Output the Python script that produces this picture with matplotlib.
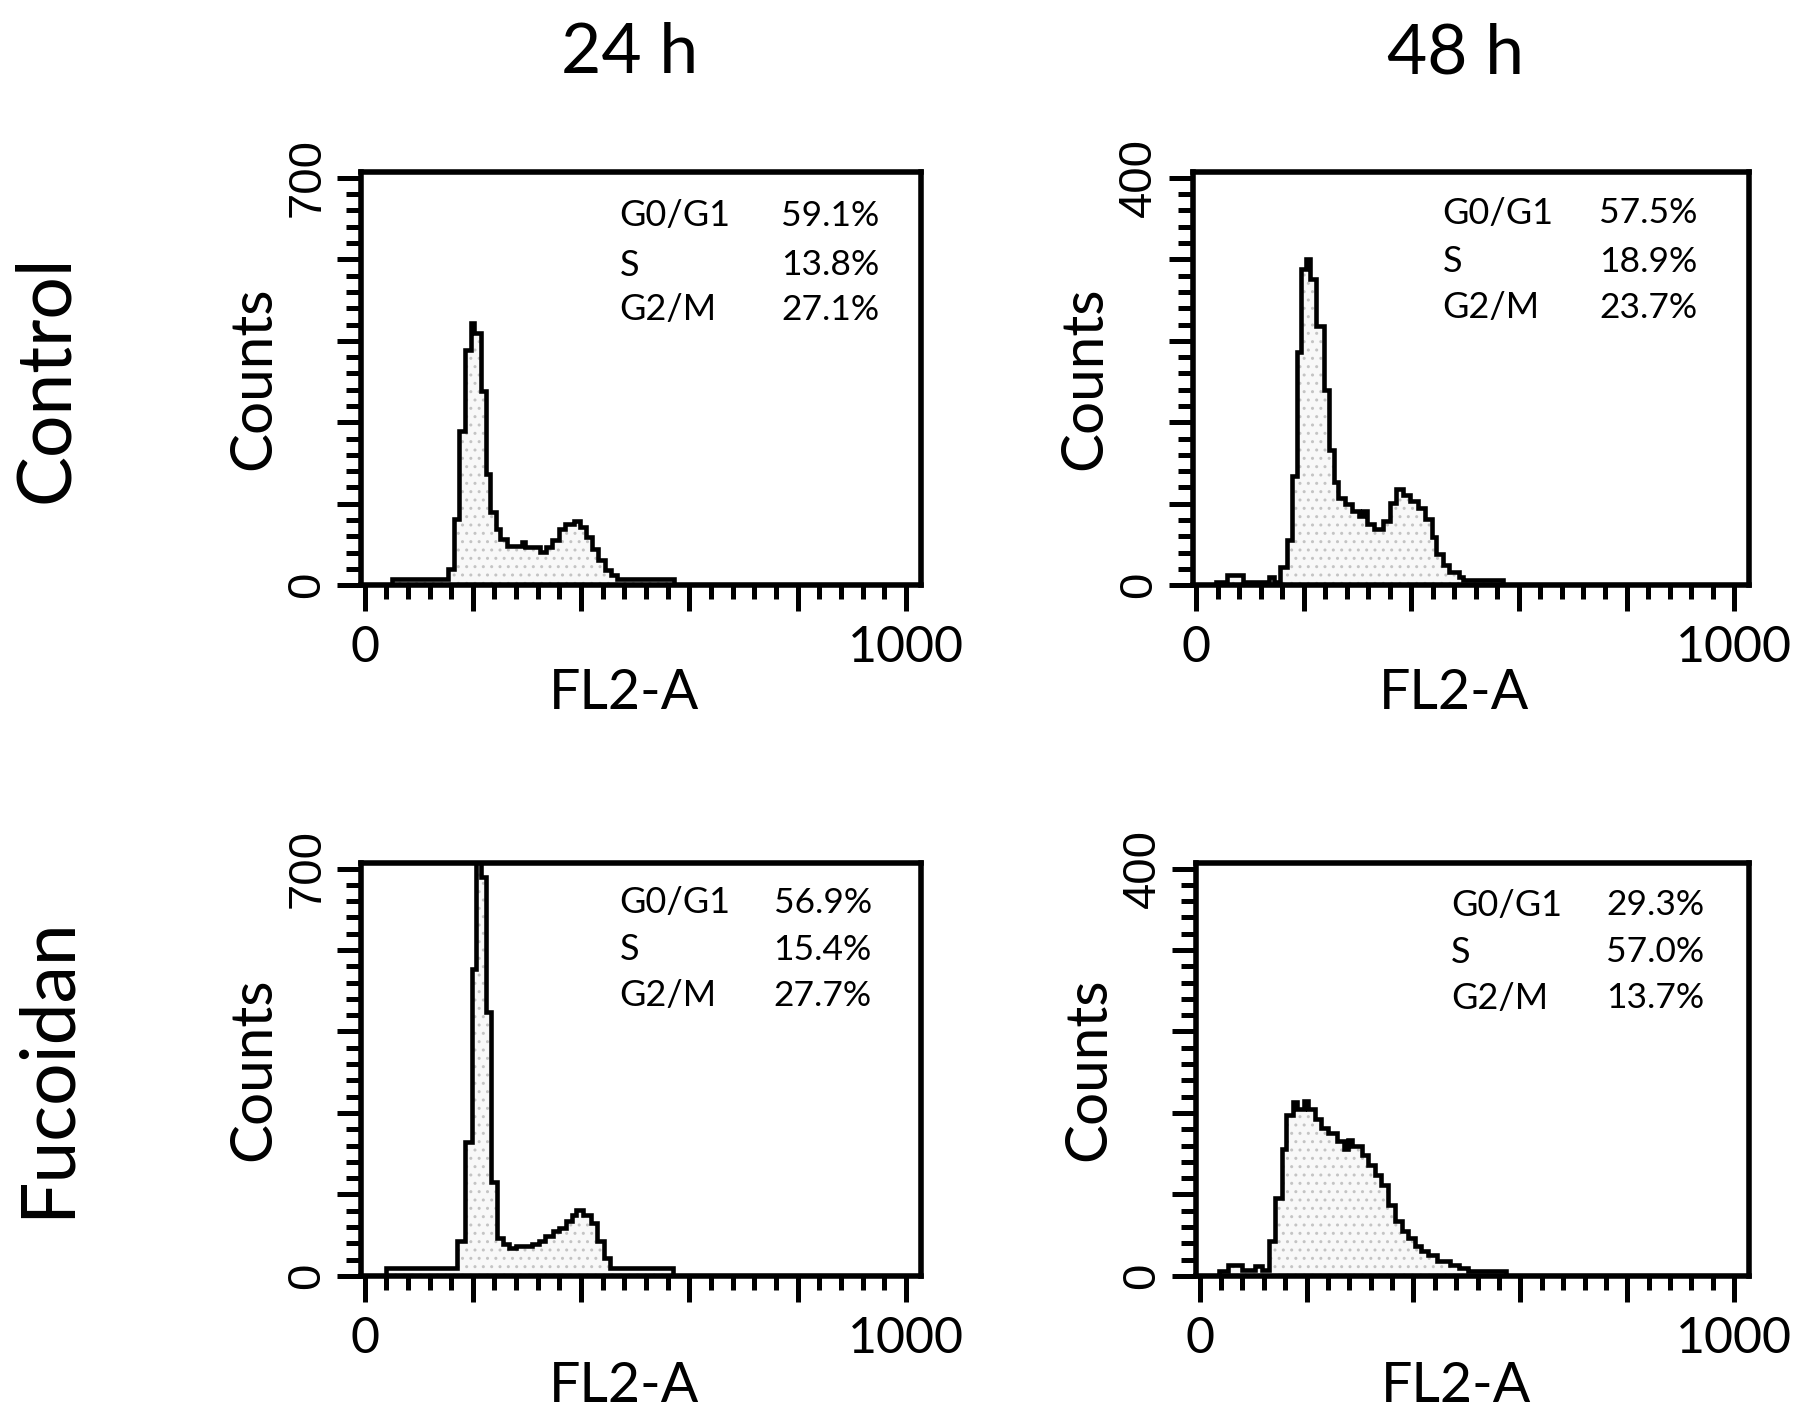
import numpy as np
import matplotlib
matplotlib.use("Agg")
import matplotlib.pyplot as plt
from matplotlib.ticker import MultipleLocator

# ---------------- data ----------------
col_titles = ["24 h", "48 h"]
row_titles = ["Control", "Fucoidan"]
phase_names = ["G0/G1", "S", "G2/M"]

# Control 24 h
ctl24_edges = [0, 50, 154, 166, 174, 185, 197, 202, 215, 224, 232, 243, 251, 263, 290,
               297, 324, 336, 347, 359, 371, 386, 398, 409, 421, 432, 444, 456, 467, 571]
ctl24_counts = [0, 11, 28, 114, 265, 404, 450, 433, 333, 191, 125, 97, 80, 68, 74,
                65, 57, 65, 77, 97, 105, 111, 100, 83, 63, 43, 26, 17, 11]
ctl24_pct = ["59.1%", "13.8%", "27.1%"]

# Control 48 h
ctl48_edges = [0, 37, 58, 87, 136, 145, 157, 169, 178, 188, 196, 205, 212, 223, 237, 248,
               256, 264, 277, 289, 302, 310, 318, 331, 347, 360, 372, 384, 397, 413, 426,
               438, 446, 459, 471, 488, 496, 570]
ctl48_counts = [0, 3, 10, 3, 8, 3, 18, 44, 107, 229, 311, 320, 301, 255, 192, 133,
                101, 86, 80, 73, 68, 73, 60, 55, 63, 81, 94, 89, 83, 76, 65,
                47, 31, 20, 13, 8, 5]
ctl48_pct = ["57.5%", "18.9%", "23.7%"]

# Fucoidan 24 h
fuc24_edges = [0, 39, 171, 186, 198, 205, 216, 225, 233, 244, 256, 267, 279, 310, 322,
               333, 349, 360, 372, 384, 391, 403, 419, 430, 442, 453, 570]
fuc24_counts = [0, 14, 60, 230, 527, 720, 686, 453, 162, 65, 54, 48, 51, 54,
                60, 68, 77, 82, 94, 105, 113, 105, 91, 60, 31, 14]
fuc24_pct = ["56.9%", "15.4%", "27.7%"]

# Fucoidan 48 h
fuc48_edges = [0, 37, 54, 79, 104, 116, 129, 141, 154, 162, 174, 183, 195, 203, 216, 228,
               241, 257, 270, 278, 286, 303, 315, 328, 340, 353, 365, 378, 390, 402, 415,
               427, 444, 469, 485, 502, 573]
fuc48_counts = [0, 5, 11, 6, 10, 6, 34, 76, 125, 158, 171, 164, 172, 164, 154,
                145, 140, 132, 125, 133, 128, 119, 109, 99, 89, 70, 54, 44, 37, 29,
                24, 20, 15, 11, 8, 5]
fuc48_pct = ["29.3%", "57.0%", "13.7%"]

y_max = [[700, 400], [700, 400]]

panels = [[(ctl24_edges, ctl24_counts, ctl24_pct), (ctl48_edges, ctl48_counts, ctl48_pct)],
          [(fuc24_edges, fuc24_counts, fuc24_pct), (fuc48_edges, fuc48_counts, fuc48_pct)]]

# ---------------- layout ----------------
W, H = 1795, 1417
fig = plt.figure(figsize=(W / 100, H / 100), dpi=100)
fig.patch.set_facecolor("white")

HUM = ["Lato", "DejaVu Sans"]
ARI = ["Liberation Sans", "DejaVu Sans"]

axes_rects = [[[0.2013, 0.587, 0.3118, 0.2915], [0.6645, 0.587, 0.3100, 0.2915]],
              [[0.2013, 0.0996, 0.3118, 0.2915], [0.6665, 0.0996, 0.3080, 0.2915]]]
text_pos = [[(0.461, 0.926, [0.894, 0.775, 0.667]), (0.449, 0.907, [0.900, 0.783, 0.672])],
            [(0.461, 0.912, [0.903, 0.789, 0.678]), (0.461, 0.919, [0.897, 0.783, 0.672])]]
xlabel_y = [-0.200, -0.205]

for r in range(2):
    for c in range(2):
        edges, counts, pct = panels[r][c]
        ymax = y_max[r][c]
        ax = fig.add_axes(axes_rects[r][c])
        ax.stairs(counts, edges, fill=True, facecolor="#f8f8f8", edgecolor="#c4c4c4",
                  hatch="..", linewidth=0, zorder=1)
        ax.stairs(counts, edges, color="black", linewidth=3.3, zorder=2)
        ax.set_xlim(-6, 1028)
        ax.set_ylim(0, ymax * 1.014)
        for s in ax.spines.values():
            s.set_linewidth(4.0)
        ax.xaxis.set_minor_locator(MultipleLocator(40))
        ax.yaxis.set_minor_locator(MultipleLocator(ymax / 25))
        ax.tick_params(axis="x", which="major", direction="out", length=19, width=3.6,
                       pad=10, labelsize=36)
        ax.tick_params(axis="x", which="minor", direction="out", length=10, width=3.6)
        ax.tick_params(axis="y", which="major", direction="out", length=17, width=3.6,
                       pad=6, labelsize=34)
        ax.tick_params(axis="y", which="minor", direction="out", length=11, width=3.6)
        ax.set_xticks([0, 200, 400, 600, 800, 1000])
        ax.set_xticklabels(["0", "", "", "", "", "1000"], family=HUM)
        ax.set_yticks([ymax * k / 5 for k in range(6)])
        ax.set_yticklabels(["0", "", "", "", "", str(ymax)], family=ARI, rotation=90,
                           va="center")
        ax.set_xlabel("FL2-A", family=HUM, fontsize=40, labelpad=2)
        ax.set_ylabel("Counts", family=HUM, fontsize=42, labelpad=4)
        ax.xaxis.set_label_coords(0.47, xlabel_y[r])
        lx, rx, ys = text_pos[r][c]
        for name, p, yy in zip(phase_names, pct, ys):
            ax.text(lx, yy, name, transform=ax.transAxes, family=HUM, fontsize=26,
                    ha="left", va="center")
            ax.text(rx, yy, p, transform=ax.transAxes, family=HUM, fontsize=25.5,
                    ha="right", va="center")

fig.text(0.351, 0.962, col_titles[0], family=HUM, fontsize=50, ha="center", va="center")
fig.text(0.811, 0.962, col_titles[1], family=HUM, fontsize=50, ha="center", va="center")
fig.text(0.026, 0.733, row_titles[0], family=HUM, fontsize=54, ha="center", va="center",
         rotation=90)
fig.text(0.026, 0.247, row_titles[1], family=HUM, fontsize=54, ha="center", va="center",
         rotation=90)

fig.savefig("out.png", dpi=100, facecolor="white")
